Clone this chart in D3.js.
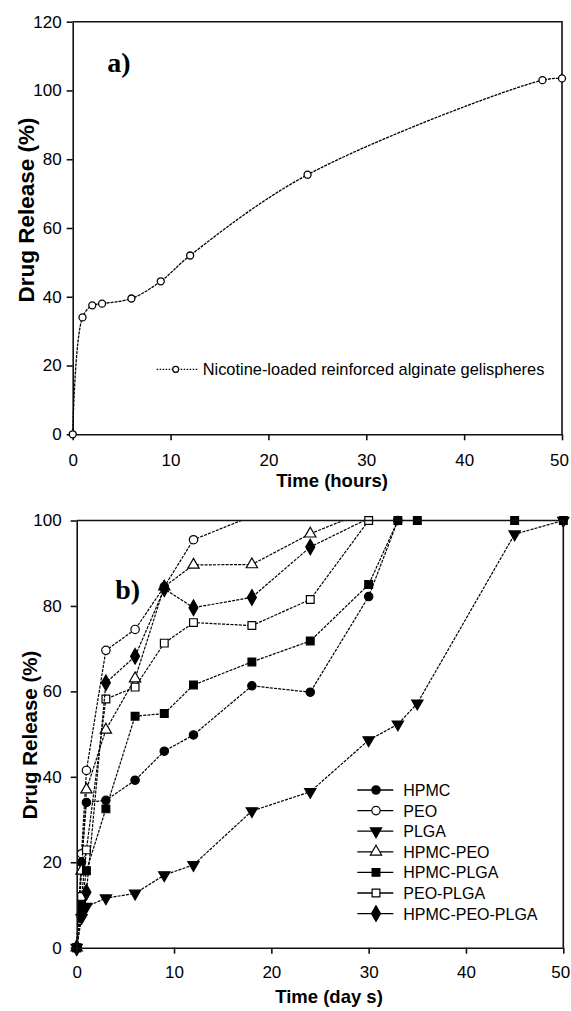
<!DOCTYPE html>
<html>
<head>
<meta charset="utf-8">
<script src="https://cdn.jsdelivr.net/npm/d3@7/dist/d3.min.js"></script>
<style>
  body { margin: 0; background: #fff; }
  text { font-family: "Liberation Sans", Arial, sans-serif; fill: #000; }
</style>
</head>
<body>
<div id="chart"></div>
<script>
// panel a : nicotine gelispheres (hours)
var hoursA = [0, 1, 2, 3, 6, 9, 12, 24, 48, 50];
var releaseA = [0, 34, 37.5, 38, 39.5, 44.5, 52, 75.5, 103, 103.5];
var labelA = "Nicotine-loaded reinforced alginate gelispheres";

// panel b : polymer devices (days)
var seriesNames = ["HPMC", "PEO", "PLGA", "HPMC-PEO", "HPMC-PLGA", "PEO-PLGA", "HPMC-PEO-PLGA"];
var daysHPMC = [0, 0.5, 1, 3, 6, 9, 12, 18, 24, 30, 33];
var relHPMC  = [0, 20, 34, 34.5, 39.2, 46, 49.8, 61.3, 59.8, 82.2, 100];
var daysPEO = [0, 0.5, 1, 3, 6, 9, 12, 18];
var relPEO  = [0, 22, 41.5, 69.6, 74.5, 84.5, 95.5, 101];
var daysPLGA = [0, 0.5, 1, 3, 6, 9, 12, 18, 24, 30, 33, 35, 45, 50];
var relPLGA  = [0, 7, 9.6, 11.6, 12.7, 17, 19.4, 32, 36.5, 48.6, 52.3, 57.2, 96.8, 100];
var daysHPMCPEO = [0, 0.5, 1, 3, 6, 9, 12, 18, 24, 30];
var relHPMCPEO  = [0, 18, 37, 51, 63, 84.5, 89.6, 89.7, 96.9, 102.4];
var daysHPMCPLGA = [0, 0.5, 1, 3, 6, 9, 12, 18, 24, 30, 33, 35, 45, 50];
var relHPMCPLGA  = [0, 10, 18, 32.5, 54.2, 54.8, 61.5, 66.9, 71.8, 85, 100, 100, 100, 100];
var daysPEOPLGA = [0, 0.5, 1, 3, 6, 9, 12, 18, 24, 30];
var relPEOPLGA  = [0, 12, 22.9, 58.2, 61, 71.3, 76.1, 75.4, 81.5, 100];
var daysTriple = [0, 0.5, 1, 3, 6, 9, 12, 18, 24, 30];
var relTriple  = [0, 8, 13, 62, 68.2, 84, 79.6, 82, 93.8, 100.5];

var xTicks = [0, 10, 20, 30, 40, 50];
var yTicksA = [0, 20, 40, 60, 80, 100, 120];
var yTicksB = [0, 20, 40, 60, 80, 100];

var svg = d3.select("#chart").append("svg")
    .attr("width", 571)
    .attr("height", 1011);

var zip = function(xs, ys) { return xs.map(function(x, i) { return {x: x, y: ys[i]}; }); };

function drawFrame(g, x, y, yTicks, tickPadY, tickPadX) {
  var w = x.range()[1], h = y.range()[0];
  var ax = g.append("g")
      .attr("transform", "translate(0," + h + ")")
      .call(d3.axisBottom(x).tickValues(xTicks).tickSize(6).tickSizeOuter(0).tickPadding(tickPadX));
  // keep the last label inside the page
  ax.selectAll(".tick text").filter(function(d) { return d === 50; }).attr("dx", "-3");
  g.append("g")
      .call(d3.axisLeft(y).tickValues(yTicks).tickSize(6).tickSizeOuter(0).tickPadding(tickPadY));
  g.selectAll(".domain, .tick line").attr("stroke", "#111").attr("stroke-width", 1.6);
  g.selectAll(".tick text").style("font-size", "17px").attr("fill", "#000");
  // top and right border
  g.append("path")
      .attr("d", "M0,0H" + w + "V" + h)
      .attr("fill", "none").attr("stroke", "#111").attr("stroke-width", 1.6);
}

function marker(sel, kind, r) {
  var s;
  if (kind === "circle") s = d3.symbolCircle;
  else if (kind === "square") s = d3.symbolSquare;
  else if (kind === "triangle") s = d3.symbolTriangle;
  else if (kind === "tridown") s = d3.symbolTriangle;
  else s = d3.symbolDiamond;
  return sel.attr("d", d3.symbol().type(s).size(r));
}

// ---------- panel a ----------
var ga = svg.append("g").attr("transform", "translate(72.7,21.7)");
var xa = d3.scaleLinear().domain([0, 50]).range([0, 489.3]);
var ya = d3.scaleLinear().domain([0, 120]).range([412.6, 0]);
drawFrame(ga, xa, ya, yTicksA, 5, 14);

var dataA = zip(hoursA, releaseA);
ga.append("path")
    .datum(dataA)
    .attr("fill", "none")
    .attr("stroke", "#000")
    .attr("stroke-width", 1.3)
    .attr("stroke-dasharray", "3,1")
    .attr("d", d3.line().curve(d3.curveCatmullRom.alpha(0.5))
      .x(function(d) { return xa(d.x); })
      .y(function(d) { return ya(d.y); }));

ga.selectAll(".pa")
    .data(dataA)
    .enter().append("circle")
      .attr("class", "pa")
      .attr("cx", function(d) { return xa(d.x); })
      .attr("cy", function(d) { return ya(d.y); })
      .attr("r", 3.5)
      .attr("fill", "#fff")
      .attr("stroke", "#000")
      .attr("stroke-width", 1.3);

// legend a
ga.append("line").attr("x1", 84).attr("x2", 126).attr("y1", 347.6).attr("y2", 347.6)
    .attr("stroke", "#000").attr("stroke-width", 1.2).attr("stroke-dasharray", "1.5,1.5");
ga.append("circle").attr("cx", 103).attr("cy", 347.6).attr("r", 3)
    .attr("fill", "#fff").attr("stroke", "#000").attr("stroke-width", 1.2);
ga.append("text").attr("x", 130).attr("y", 353.5)
    .style("font-size", "16.4px").text(labelA);

ga.append("text").attr("x", 34.5).attr("y", 50)
    .style("font-family", "'Liberation Serif', 'Times New Roman', serif")
    .style("font-weight", "bold").style("font-size", "28px").text("a)");

svg.append("text")
    .attr("transform", "translate(33.5,210) rotate(-90)")
    .attr("text-anchor", "middle")
    .style("font-weight", "bold").style("font-size", "22.5px")
    .text("Drug Release (%)");
svg.append("text")
    .attr("x", 332).attr("y", 487)
    .attr("text-anchor", "middle")
    .style("font-weight", "bold").style("font-size", "18.5px")
    .text("Time (hours)");

// ---------- panel b ----------
var gb = svg.append("g").attr("transform", "translate(76.7,520.5)");
var xb = d3.scaleLinear().domain([0, 50]).range([0, 486.6]);
var yb = d3.scaleLinear().domain([0, 100]).range([427.2, 0]);

gb.append("clipPath").attr("id", "clipb")
  .append("rect").attr("x", -6).attr("y", 0).attr("width", 500).attr("height", 434);

var seriesB = [
  {name: seriesNames[0], pts: zip(daysHPMC, relHPMC), kind: "circle", fill: "#000"},
  {name: seriesNames[1], pts: zip(daysPEO, relPEO), kind: "circle", fill: "#fff"},
  {name: seriesNames[2], pts: zip(daysPLGA, relPLGA), kind: "tridown", fill: "#000"},
  {name: seriesNames[3], pts: zip(daysHPMCPEO, relHPMCPEO), kind: "triangle", fill: "#fff"},
  {name: seriesNames[4], pts: zip(daysHPMCPLGA, relHPMCPLGA), kind: "square", fill: "#000"},
  {name: seriesNames[5], pts: zip(daysPEOPLGA, relPEOPLGA), kind: "square", fill: "#fff"},
  {name: seriesNames[6], pts: zip(daysTriple, relTriple), kind: "diamond", fill: "#000"}
];
var symSize = {circle: 55, square: 60, triangle: 55, tridown: 55, diamond: 70};

var lineB = d3.line()
    .x(function(d) { return xb(d.x); })
    .y(function(d) { return yb(d.y); });

var sg = gb.selectAll(".series")
    .data(seriesB)
    .enter().append("g")
      .attr("class", "series");

sg.append("path")
    .attr("clip-path", "url(#clipb)")
    .attr("fill", "none")
    .attr("stroke", "#000")
    .attr("stroke-width", 1.2)
    .attr("stroke-dasharray", "3,1.2")
    .attr("d", function(d) { return lineB(d.pts); });

sg.each(function(s) {
  d3.select(this).selectAll(".m")
    .data(s.pts.filter(function(p) { return p.y <= 100; }))
    .enter().append("path")
      .attr("class", "m")
      .call(marker, s.kind, symSize[s.kind])
      .attr("transform", function(p) {
        return "translate(" + xb(p.x) + "," + yb(p.y) + ")" + (s.kind === "tridown" ? " rotate(180)" : "");
      })
      .attr("fill", s.fill)
      .attr("stroke", "#000")
      .attr("stroke-width", 1.2);
});

drawFrame(gb, xb, yb, yTicksB, 9, 12);

// legend b
var lg = gb.selectAll(".lg")
    .data(seriesB)
    .enter().append("g")
      .attr("class", "lg")
      .attr("transform", function(d, i) { return "translate(280.6," + (269.5 + i * 20.6) + ")"; });
lg.append("line").attr("x1", 0).attr("x2", 36)
    .attr("stroke", "#000").attr("stroke-width", 1.3);
lg.append("path")
    .each(function(d) { marker(d3.select(this), d.kind, symSize[d.kind]); })
    .attr("transform", function(d) { return "translate(18.7,0)" + (d.kind === "tridown" ? " rotate(180)" : ""); })
    .attr("fill", function(d) { return d.fill; })
    .attr("stroke", "#000").attr("stroke-width", 1.2);
lg.append("text").attr("x", 46).attr("y", 6)
    .style("font-size", "16px")
    .text(function(d) { return d.name; });

gb.append("text").attr("x", 38.5).attr("y", 78.5)
    .style("font-family", "'Liberation Serif', 'Times New Roman', serif")
    .style("font-weight", "bold").style("font-size", "28px").text("b)");

svg.append("text")
    .attr("transform", "translate(37,735) rotate(-90)")
    .attr("text-anchor", "middle")
    .style("font-weight", "bold").style("font-size", "20.5px")
    .text("Drug Release (%)");
svg.append("text")
    .attr("x", 329).attr("y", 1003)
    .attr("text-anchor", "middle")
    .style("font-weight", "bold").style("font-size", "18.5px")
    .text("Time (day s)");
</script>
</body>
</html>
